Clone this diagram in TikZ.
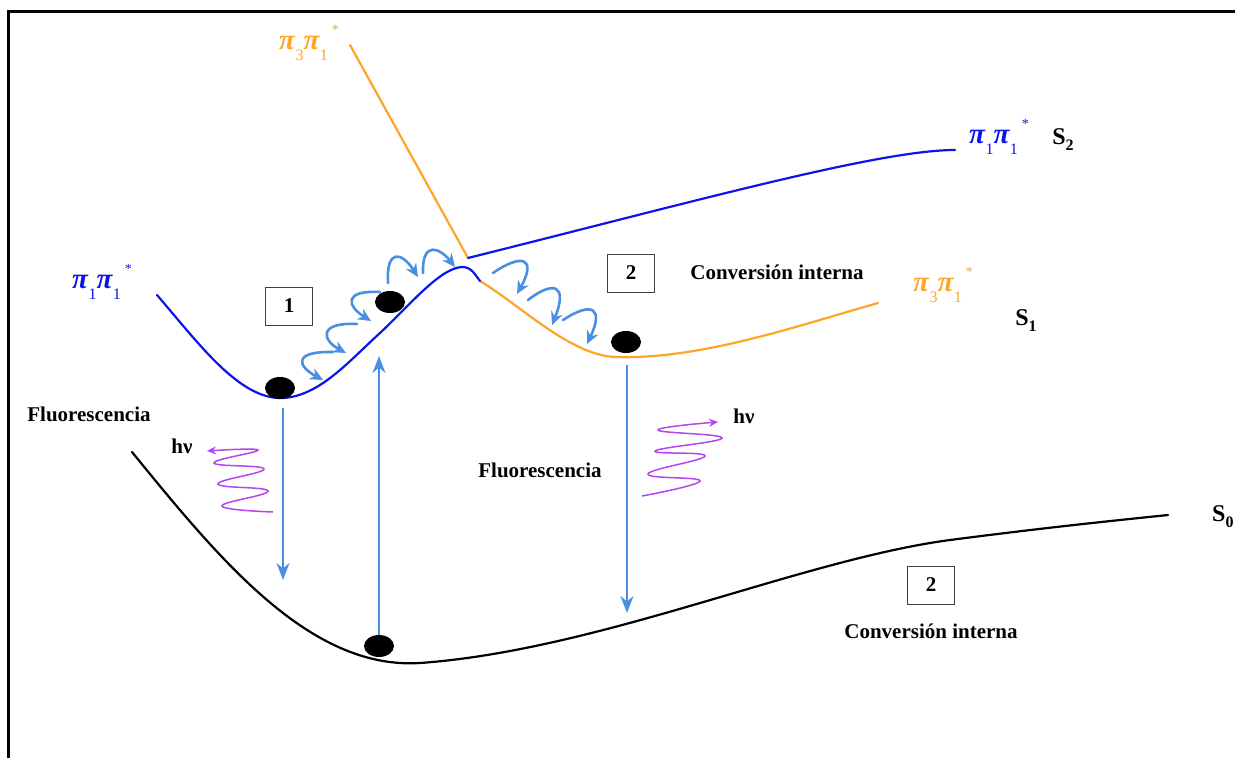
\documentclass[tikz,border=0pt]{standalone}
\usepackage{fontspec}
\setmainfont{Liberation Serif}
\usetikzlibrary{shapes.geometric,arrows.meta}
\definecolor{sblue}{RGB}{10,20,235}
\definecolor{sorange}{RGB}{252,165,40}
\definecolor{hopblue}{RGB}{74,144,226}
\definecolor{wavepurple}{RGB}{180,70,240}
\newcommand{\pp}[2]{\textit{π}\raisebox{-11pt}{\fontsize{16}{16}\selectfont\mdseries\upshape #1}\textit{π}\raisebox{-11pt}{\fontsize{16}{16}\selectfont\mdseries\upshape #2}\hspace{4pt}\raisebox{15pt}{\fontsize{14}{14}\selectfont\mdseries\upshape *}}
\newcommand{\ssub}[1]{S\raisebox{-6pt}{\fontsize{16}{16}\selectfont #1}}
\tikzset{
  lbl/.style={font=\fontsize{21}{24}\selectfont\bfseries, inner sep=0pt},
  pilbl/.style={font=\fontsize{29}{30}\selectfont\bfseries, inner sep=0pt},
  slbl/.style={font=\fontsize{24}{26}\selectfont\bfseries, inner sep=0pt},
  numbox/.style={draw=black!75, line width=1pt, minimum width=47pt, minimum height=38pt, inner sep=0pt, font=\fontsize{21}{24}\selectfont\bfseries},
  dot/.style={ellipse, fill=black, minimum width=30pt, minimum height=22pt, inner sep=0pt},
  pes/.style={line width=2.2pt, line cap=round},
  hop/.style={draw=hopblue, line width=2.6pt, line cap=round, -{Stealth[length=13pt,width=12pt]}},
  vert/.style={draw=hopblue, line width=2.3pt, -{Stealth[length=17pt,width=13pt]}},
  wave/.style={draw=wavepurple, line width=1.5pt, -{Stealth[length=9pt,width=8pt]}},
}
\begin{document}
\begin{tikzpicture}[x=1pt,y=-1pt]
\useasboundingbox (0,0) rectangle (1235,758);
% frame
\draw[line width=3pt] (8,758) -- (8,11) -- (1236,11);

% potential energy curves
\draw[pes, sorange] (350,45) -- (468,258);
\draw[pes, sblue] (468,258) .. controls (700,200) and (880,150) .. (955,150);
\draw[pes, sorange] (480,281) .. controls (520,305) and (570,355) .. (615,357) .. controls (700,360) and (800,325) .. (878,303);
\draw[pes, sblue] (157,295) .. controls (200,345) and (240,400) .. (283,398) .. controls (320,396) and (350,360) .. (380,333) .. controls (410,305) and (440,268) .. (462,267) .. controls (472,267) and (475,275) .. (480,281);
\draw[pes, black] (132,452) .. controls (220,560) and (310,670) .. (420,663) .. controls (600,650) and (800,560) .. (950,540) .. controls (1050,527) and (1120,520) .. (1168,515);

% dots
\node[dot] (d1) at (280,388) {};
\node[dot] (d2) at (390,302) {};
\node[dot] (d3) at (626,342) {};
\node[dot] (d4) at (379,646) {};

% vertical arrows
\coordinate (a1s) at (283,408);
\coordinate (a1e) at (283,580);
\coordinate (a2e) at (379,356);
\coordinate (a3s) at (627,365);
\coordinate (a3e) at (627,613);
\draw[vert] (a1s) -- (a1e);
\draw[vert] (d4.north) -- (a2e);
\draw[vert] (a3s) -- (a3e);

% internal conversion hops (left)
\draw[hop] (333,352) .. controls (293,351) and (297,366) .. (323,380);
\draw[hop] (357,324) .. controls (318,322) and (322,340) .. (346,353);
\draw[hop] (380,292) .. controls (343,290) and (347,306) .. (371,321);
\draw[hop] (388,283) .. controls (386,248) and (402,252) .. (418,277);
\draw[hop] (423,273) .. controls (422,240) and (440,248) .. (455,267);
% internal conversion hops (right)
\draw[hop] (493,273) .. controls (522,253) and (537,258) .. (517,294);
\draw[hop] (528,300) .. controls (554,280) and (568,285) .. (552,325);
\draw[hop] (563,320) .. controls (592,301) and (604,308) .. (587,344);

% photon waves
\draw[wave] plot[smooth, tension=0.75] coordinates {(273,512) (222,506) (268,491) (218,484) (264,469) (214,463) (258,450) (207,451)};
\draw[wave] plot[smooth, tension=0.75] coordinates {(642,496) (700,481) (648,474) (705,456) (655,451) (722,438) (658,430) (718,422)};

% boxes
\node[numbox] (b1) at (289,306) {1};
\node[numbox] (b2) at (631,273) {2};
\node[numbox] (b3) at (931,585) {2};

% text labels
\node[lbl] (ci1) at (777,272) {Conversión interna};
\node[lbl] (ci2) at (931,631) {Conversión interna};
\node[lbl] (fl1) at (89,414) {Fluorescencia};
\node[lbl] (fl2) at (540,470) {Fluorescencia};
\node[lbl] (hv1) at (182,446) {hν};
\node[lbl] (hv2) at (744,416) {hν};

% state labels
\node[pilbl, text=sblue] (p1) at (102,282) {\pp{1}{1}};
\node[pilbl, text=sorange] (p2) at (309,43) {\pp{3}{1}};
\node[pilbl, text=sblue] (p3) at (999,137) {\pp{1}{1}};
\node[pilbl, text=sorange] (p4) at (943,285) {\pp{3}{1}};
\node[slbl] (s2) at (1063,140) {\ssub{2}};
\node[slbl] (s1) at (1026,321) {\ssub{1}};
\node[slbl, anchor=west] (s0) at (1212,517) {\ssub{0}};
\end{tikzpicture}
\end{document}
